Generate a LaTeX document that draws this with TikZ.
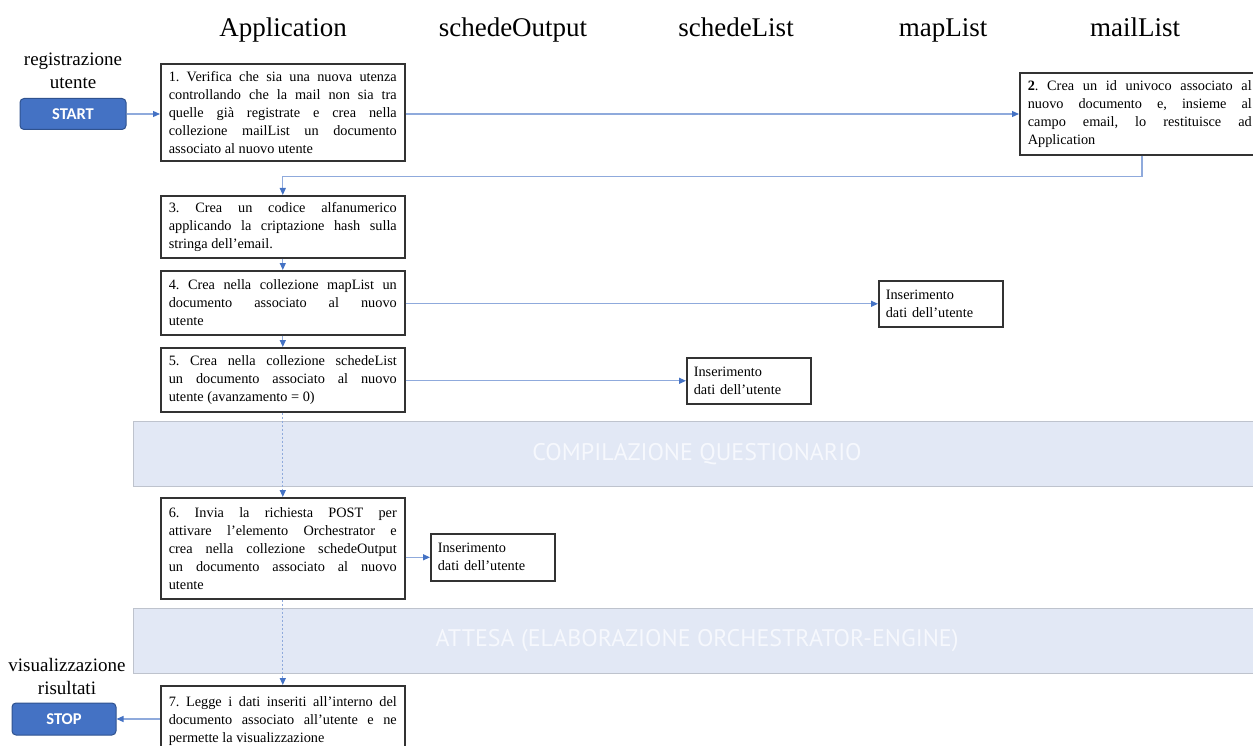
\documentclass[tikz,border=0pt]{standalone}
\usepackage{fontspec}
\setmainfont{Liberation Serif}
\newfontfamily\btnfont{Carlito}
\newfontfamily\bannerfont{PT Sans}
\usetikzlibrary{arrows.meta,calc}
\definecolor{btnblue}{RGB}{68,114,196}
\definecolor{btnedge}{RGB}{47,82,143}
\definecolor{linkblue}{RGB}{143,170,220}
\definecolor{tipblue}{RGB}{68,114,196}
\definecolor{bandfill}{RGB}{226,232,245}
\definecolor{bandedge}{RGB}{190,195,205}
\definecolor{bandink}{RGB}{246,248,253}
\newcommand\nl{\linebreak}
\newcommand\nohyph{\hyphenpenalty=10000\relax}
\tikzset{
  header/.style={font=\fontsize{27}{31}\selectfont, anchor=base},
  sidelabel/.style={font=\fontsize{19}{23}\selectfont, align=center, anchor=north},
  button/.style={draw=btnedge, line width=1pt, fill=btnblue, rounded corners=4pt,
    minimum width=106pt, minimum height=31pt, text=white,
    font=\btnfont\bfseries\fontsize{16.5}{19}\selectfont},
  stepbox/.style={draw=black!80, line width=1.6pt, anchor=north west,
    text width=228pt, inner xsep=8pt, inner ysep=5pt, align=justify,
    font=\fontsize{14.3}{18}\selectfont\frenchspacing\nohyph},
  notebox/.style={draw=black!80, line width=1.6pt, anchor=north west,
    text width=110pt, inner xsep=7pt, inner ysep=5pt, align=left,
    font=\fontsize{14.3}{18}\selectfont},
  band/.style={draw=bandedge, line width=1.2pt, fill=bandfill, anchor=north west,
    minimum width=1130pt, minimum height=65pt},
  bandtext/.style={text=bandink, font=\bannerfont\fontsize{24}{28}\selectfont},
  link/.style={draw=linkblue, line width=1.2pt, -{Triangle[length=7pt,width=6pt,fill=tipblue,color=tipblue]}},
  waitlink/.style={link, dashed, dash pattern=on 2pt off 2pt},
}
\begin{document}
\begin{tikzpicture}[x=1pt,y=-1pt]
\useasboundingbox (0,0) rectangle (1253,746);

% lane headers
\node[header] (hApp) at (283,37) {Application};
\node[header] (hOut) at (513,37) {schedeOutput};
\node[header] (hSL) at (736,37) {schedeList};
\node[header] (hML) at (943,37) {mapList};
\node[header] (hMail) at (1135,37) {mailList};

% start and stop
\node[sidelabel] (lreg) at (73,49) {registrazione\\utente};
\node[button] (start) at (73,114) {START};
\node[sidelabel] (lvis) at (67,655) {visualizzazione\\risultati};
\node[button, minimum width=104pt, minimum height=32pt] (stop) at (64,719) {STOP};

% bands
\node[band] (band1) at (133,421) {};
\node[bandtext] (band1t) at (697,454) {COMPILAZIONE QUESTIONARIO};
\node[band] (band2) at (133,608) {};
\node[bandtext] (band2t) at (697,641) {ATTESA (ELABORAZIONE ORCHESTRATOR-ENGINE)};

% Application steps
\node[stepbox, minimum height=97pt] (s1) at (160,63) {1. Verifica che sia una nuova utenza\nl controllando che la mail non sia tra\nl quelle già registrate e crea nella\nl collezione mailList un documento\nl associato al nuovo utente};
\node[stepbox, minimum height=82pt, text width=224pt] (s2) at (1019,72) {\textbf{2}. Crea un id univoco associato al\nl nuovo documento e, insieme al\nl campo email, lo restituisce ad\nl Application};
\node[stepbox, minimum height=62pt] (s3) at (160,195) {3. Crea un codice alfanumerico\nl applicando la criptazione hash sulla\nl stringa dell’email.};
\node[stepbox, minimum height=64pt] (s4) at (160,270) {4. Crea nella collezione mapList un\nl documento associato al nuovo\nl utente};
\node[stepbox, minimum height=64pt] (s5) at (160,347) {5. Crea nella collezione schedeList\nl un documento associato al nuovo\nl utente (avanzamento = 0)};
\node[stepbox, minimum height=101pt] (s6) at (160,497) {6. Invia la richiesta POST per\nl attivare l’elemento Orchestrator e\nl crea nella collezione schedeOutput\nl un documento associato al nuovo\nl utente};
\node[stepbox, minimum height=70pt] (s7) at (160,685) {7. Legge i dati inseriti all’interno del\nl documento associato all’utente e ne\nl permette la visualizzazione};

% data insertion notes
\node[notebox, minimum height=46pt] (nML) at (878,280) {Inserimento\\dati dell’utente};
\node[notebox, minimum height=46pt] (nSL) at (686,357) {Inserimento\\dati dell’utente};
\node[notebox, minimum height=47pt] (nOut) at (430,533) {Inserimento\\dati dell’utente};

% connectors
\draw[link] (start.east) -- (start.east -| s1.west);
\draw[link] (s1.east |- start.east) -- (start.east -| s2.west);
\coordinate (ret) at ($(s2.south west)+(123,0)$);
\draw[link] (ret) -- ++(0,21) -| (s3.north);
\draw[link] (s3.south) -- (s4.north);
\draw[link] (s4.south) -- (s5.north);
\draw[link] (s4.east |- nML.west) -- (nML.west);
\draw[link] (s5.east |- nSL.west) -- (nSL.west);
\draw[waitlink] (s5.south) -- (s6.north);
\draw[link] (s6.east |- nOut.west) -- (nOut.west);
\draw[waitlink] (s6.south) -- (s7.north);
\draw[link] (s7.west |- stop.east) -- (stop.east);
\end{tikzpicture}
\end{document}
